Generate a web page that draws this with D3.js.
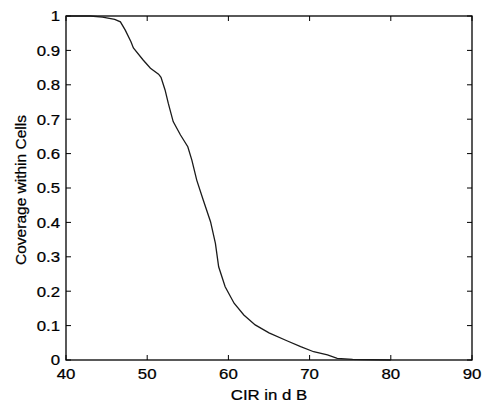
<!DOCTYPE html>
<html><head><meta charset="utf-8">
<script src="https://cdn.jsdelivr.net/npm/d3@7"></script>
<style>
body{margin:0;background:#fff;}
text{font-family:"Liberation Sans",Arial,Helvetica,sans-serif;fill:#000;stroke:#000;stroke-width:0.25px;}
</style></head>
<body><svg id="c" width="487" height="406"></svg>
<script>
const cir = [40, 43, 44.5, 46, 46.7, 47.3, 48.0, 48.3, 49.5, 50.4, 51.4, 51.7, 52.2, 52.6, 53.2, 54.1, 55.0, 55.5, 56.1, 56.9, 57.8, 58.4, 58.8, 59.6, 60.7, 61.9, 63.3, 65.0, 67.2, 68.9, 70.5, 72.2, 73.4, 75.3, 80];
const coverage = [1, 1, 0.997, 0.99, 0.983, 0.959, 0.925, 0.907, 0.872, 0.848, 0.831, 0.822, 0.785, 0.746, 0.693, 0.654, 0.620, 0.581, 0.523, 0.465, 0.402, 0.339, 0.271, 0.213, 0.165, 0.131, 0.102, 0.079, 0.056, 0.039, 0.024, 0.015, 0.005, 0.002, 0];
const xTicks = [40, 50, 60, 70, 80, 90];
const yTicks = [0, 0.1, 0.2, 0.3, 0.4, 0.5, 0.6, 0.7, 0.8, 0.9, 1];
const xLabel = "CIR in d B";
const yLabel = "Coverage within Cells";

const svg = d3.select("#c");
const L = 66, R = 472, T = 16, B = 360;
const x = d3.scaleLinear().domain([40, 90]).range([L, R]);
const y = d3.scaleLinear().domain([0, 1]).range([B, T]);
const tl = 5;
const sx = 1.12;

const g = svg.append("g");
function label(px, py, anchor, txt, size) {
  g.append("text").attr("transform", `translate(${px},${py}) scale(${sx},1)`)
    .attr("text-anchor", anchor).attr("font-size", size).text(txt);
}
// ticks inward on all four sides
xTicks.forEach(v => {
  g.append("line").attr("x1", x(v)).attr("x2", x(v)).attr("y1", B).attr("y2", B - tl).attr("stroke", "#000");
  g.append("line").attr("x1", x(v)).attr("x2", x(v)).attr("y1", T).attr("y2", T + tl).attr("stroke", "#000");
  label(x(v), 379, "middle", v, 15);
});
yTicks.forEach(v => {
  g.append("line").attr("x1", L).attr("x2", L + tl).attr("y1", y(v)).attr("y2", y(v)).attr("stroke", "#000");
  g.append("line").attr("x1", R).attr("x2", R - tl).attr("y1", y(v)).attr("y2", y(v)).attr("stroke", "#000");
  label(60, y(v) + 5.4, "end", String(v), 15);
});
// box
g.append("rect").attr("x", L).attr("y", T).attr("width", R - L).attr("height", B - T)
  .attr("fill", "none").attr("stroke", "#000").attr("stroke-width", 1.3);

// curve
const line = d3.line().x((d, i) => x(cir[i])).y((d, i) => y(coverage[i]));
g.append("path").datum(coverage).attr("d", line).attr("fill", "none").attr("stroke", "#1a1a1a").attr("stroke-width", 1.3);

// labels
label(x(65), 400, "middle", xLabel, 15);
g.append("text").attr("transform", "translate(26,190) rotate(-90)").attr("text-anchor", "middle").attr("font-size", 15.5).text(yLabel);
</script></body></html>
